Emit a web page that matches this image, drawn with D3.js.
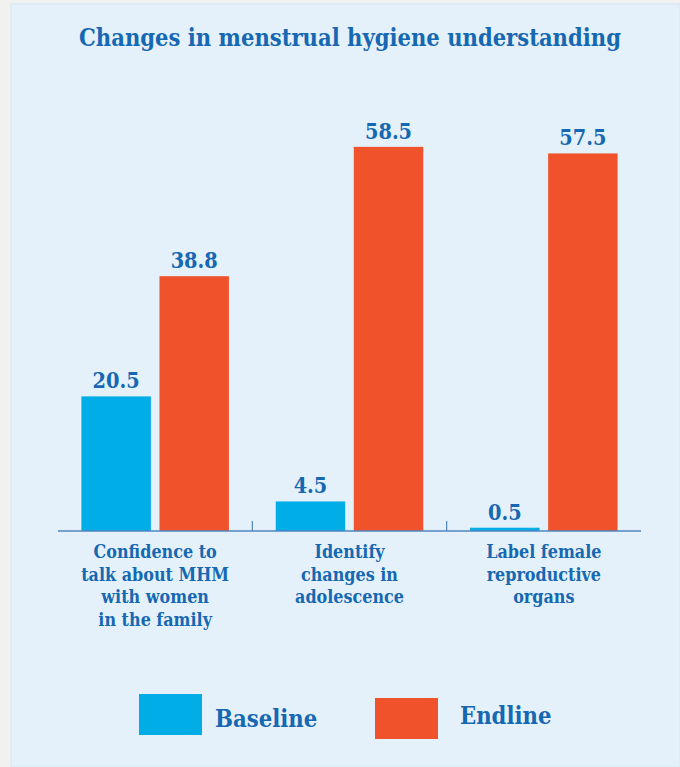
<!DOCTYPE html>
<html>
<head>
<meta charset="utf-8">
<script src="https://cdn.jsdelivr.net/npm/d3@7"></script>
<style>
  html, body { margin: 0; padding: 0; background: #f1f1f0; }
  svg { display: block; }
  text { font-family: "DejaVu Serif Condensed", "DejaVu Serif", serif; font-weight: bold; font-stretch: condensed; fill: #1668b2; }
</style>
</head>
<body>
<svg id="chart" width="680" height="767"></svg>
<script>
// Data
const categories = [
    ["Confidence to", "talk about MHM", "with women", "in the family"],
    ["Identify", "changes in", "adolescence"],
    ["Label female", "reproductive", "organs"]
];
const seriesNames = ["Baseline", "Endline"];
const baseline = [20.5, 4.5, 0.5];
const endline = [38.8, 58.5, 57.5];
const colors = ["#00ade6", "#f0532c"];

const W = 680, H = 767;
const margin = { left: 58, right: 39, top: 137, bottom: 236 };

const svg = d3.select("#chart");

// panel behind everything
svg.append("rect")
    .attr("x", 11).attr("y", 4)
    .attr("width", W - 11).attr("height", H - 4)
    .attr("fill", "#e4f1fa")
    .attr("stroke", "#d6e8f5").attr("stroke-width", 1);

svg.append("text")
    .attr("x", 350).attr("y", 46)
    .attr("text-anchor", "middle")
    .attr("font-size", 23.5)
    .text("Changes in menstrual hygiene understanding");

const x0 = d3.scaleBand()
    .domain(d3.range(categories.length))
    .range([margin.left, W - margin.right])
    .paddingInner(0).paddingOuter(0);

const x1 = d3.scaleBand()
    .domain(seriesNames)
    .range([0, x0.bandwidth()])
    .paddingInner(0.11).paddingOuter(0.3);

const y = d3.scaleLinear()
    .domain([0, 60])
    .range([H - margin.bottom, H - margin.bottom - 394]);

const rows = categories.map((c, i) => ({ i, values: [baseline[i], endline[i]] }));

const groups = svg.append("g").selectAll("g")
    .data(rows)
    .join("g")
    .attr("transform", d => `translate(${x0(d.i)},0)`);

groups.selectAll("rect")
    .data(d => d.values.map((v, k) => ({ v, k })))
    .join("rect")
    .attr("x", d => x1(seriesNames[d.k]))
    .attr("y", d => y(d.v))
    .attr("width", x1.bandwidth())
    .attr("height", d => y(0) - y(d.v))
    .attr("fill", d => colors[d.k]);

groups.selectAll("text.val")
    .data(d => d.values.map((v, k) => ({ v, k })))
    .join("text")
    .attr("class", "val")
    .attr("x", d => x1(seriesNames[d.k]) + x1.bandwidth() / 2)
    .attr("y", d => y(d.v) - 8)
    .attr("text-anchor", "middle")
    .attr("font-size", 21.5)
    .text(d => d.v.toFixed(1));

// axis line with ticks between groups
const axisY = y(0);
svg.append("line")
    .attr("x1", margin.left).attr("x2", W - margin.right)
    .attr("y1", axisY).attr("y2", axisY)
    .attr("stroke", "#4f86bf").attr("stroke-width", 1.6);
svg.append("g").selectAll("line")
    .data(d3.range(1, categories.length))
    .join("line")
    .attr("x1", d => x0(d)).attr("x2", d => x0(d))
    .attr("y1", axisY - 10).attr("y2", axisY)
    .attr("stroke", "#4f86bf").attr("stroke-width", 1.2);

// category labels
const labels = svg.append("g").selectAll("text")
    .data(categories)
    .join("text")
    .attr("text-anchor", "middle")
    .attr("font-size", 17.8)
    .attr("x", (d, i) => x0(i) + x0.bandwidth() / 2)
    .attr("y", axisY + 27);
labels.selectAll("tspan")
    .data(d => d)
    .join("tspan")
    .attr("x", function () { return this.parentNode.getAttribute("x"); })
    .attr("dy", (d, j) => j === 0 ? 0 : 22.6)
    .text(d => d);

// legend
const legend = [
    { name: seriesNames[0], color: colors[0], x: 139, y: 694, tx: 215, ty: 727 },
    { name: seriesNames[1], color: colors[1], x: 375, y: 698, tx: 460, ty: 724 }
];
const lg = svg.append("g").selectAll("g").data(legend).join("g");
lg.append("rect")
    .attr("x", d => d.x).attr("y", d => d.y)
    .attr("width", 63).attr("height", 41)
    .attr("fill", d => d.color);
lg.append("text")
    .attr("x", d => d.tx).attr("y", d => d.ty)
    .attr("font-size", 23.6)
    .text(d => d.name);
</script>
</body>
</html>
